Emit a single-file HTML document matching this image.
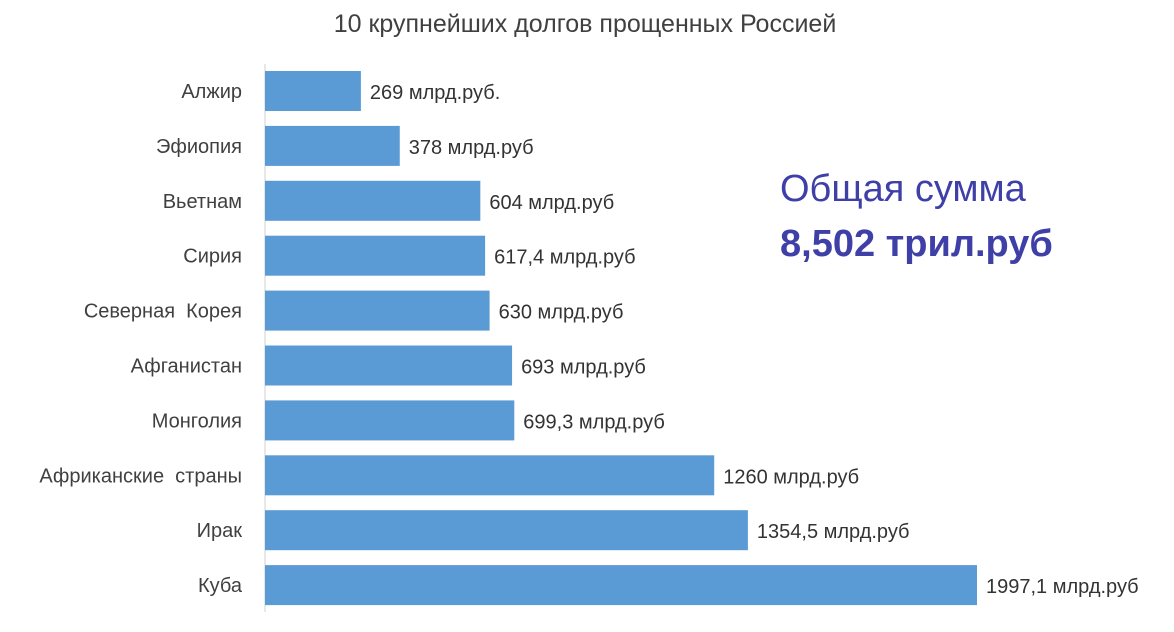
<!DOCTYPE html>
<html><head><meta charset="utf-8">
<style>
body{margin:0;background:#fff;width:1174px;height:627px;overflow:hidden;font-family:"Liberation Sans","DejaVu Sans",sans-serif;}
svg text{font-family:"Liberation Sans","DejaVu Sans",sans-serif;}
</style></head>
<body>
<svg width="1174" height="627" id="chart">
<text x="585" y="32" text-anchor="middle" font-size="25" fill="#404040">10 крупнейших долгов прощенных Россией</text>
<line x1="265" y1="64" x2="265" y2="612" stroke="#d0d0d0" stroke-width="1"/>
<g id="bars"></g>
<text x="780" y="201" font-size="38" fill="#3f3fa8">Общая сумма</text>
<text x="780" y="256" font-size="38" font-weight="bold" fill="#3f3fa8">8,502 трил.руб</text>
</svg>
<script>
const categories=["Алжир","Эфиопия","Вьетнам","Сирия","Северная  Корея","Афганистан","Монголия","Африканские  страны","Ирак","Куба"];
const values=[269,378,604,617.4,630,693,699.3,1260,1354.5,1997.1];
const valueLabels=["269 млрд.руб.","378 млрд.руб","604 млрд.руб","617,4 млрд.руб","630 млрд.руб","693 млрд.руб","699,3 млрд.руб","1260 млрд.руб","1354,5 млрд.руб","1997,1 млрд.руб"];
const x0=265, scale=(977-265)/1997.1;
const xPos=v=>x0+v*scale;
const yCenter=i=>91+i*54.9;
const g=document.getElementById('bars');
const NS="http://www.w3.org/2000/svg";
categories.forEach((c,i)=>{
  const cy=yCenter(i);
  const r=document.createElementNS(NS,'rect');
  r.setAttribute('x',x0);r.setAttribute('y',cy-20);
  r.setAttribute('width',xPos(values[i])-x0);r.setAttribute('height',40);
  r.setAttribute('fill','#5b9bd5');
  
  
  g.appendChild(r);
  const t=document.createElementNS(NS,'text');
  t.setAttribute('x',242);t.setAttribute('y',cy+7);
  t.setAttribute('text-anchor','end');t.setAttribute('font-size','20');t.setAttribute('fill','#404040');
  t.setAttribute('xml:space','preserve');t.style.whiteSpace='pre';
  t.textContent=c;
  
  
  g.appendChild(t);
  const v=document.createElementNS(NS,'text');
  v.setAttribute('x',xPos(values[i])+9);v.setAttribute('y',cy+8);
  v.setAttribute('font-size','20');v.setAttribute('fill','#333');
  v.textContent=valueLabels[i];
  
  
  g.appendChild(v);
});
</script>
</body></html>
